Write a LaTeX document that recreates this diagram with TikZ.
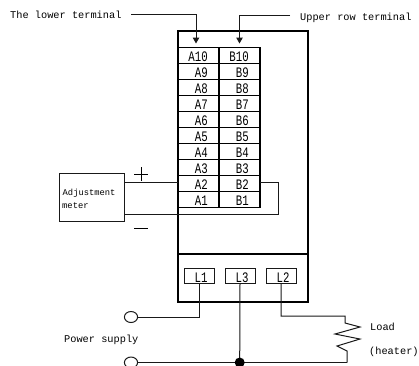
\documentclass[tikz,border=0pt]{standalone}
\usepackage{fontspec}
\setmainfont{Liberation Mono}
\newfontfamily\cellfont[FakeStretch=0.74]{Liberation Mono}
\usetikzlibrary{arrows.meta}
\tikzset{
  heavy/.style={draw=black,line width=1.8pt},
  wire/.style={draw=black!90,line width=1pt},
  pointer/.style={wire,-{Triangle[length=6pt,width=6.5pt]}},
  cellbox/.style={heavy,rectangle,minimum width=41pt,minimum height=16pt,inner sep=0pt,outer sep=0pt},
  celltext/.style={font=\cellfont\fontsize{14.5}{15}\selectfont,inner sep=0pt,anchor=base east},
  termbox/.style={draw=black!90,line width=1pt,rectangle,minimum width=30pt,minimum height=15pt,inner sep=0pt,outer sep=0pt},
  lbl/.style={font=\fontsize{10.3}{12}\selectfont,inner sep=0pt,anchor=base west},
  small/.style={font=\fontsize{8.8}{10}\selectfont,inner sep=0pt,anchor=base west},
  ring/.style={draw=black!90,line width=1pt,fill=white,circle,inner sep=0pt,minimum size=11pt,xscale=1.2},
}
\begin{document}
\begin{tikzpicture}[x=1pt,y=-1pt]
\clip (0,0) rectangle (419,365);
\fill[white] (0,0) rectangle (419,365);
% outer case
\node[heavy,rectangle,minimum width=130pt,minimum height=271pt,inner sep=0pt,outer sep=0pt] (case) at (243,166.5) {};
\draw[heavy] (178,254) -- (308,254);
% terminal table
\foreach \r/\yy in {10/55.5,9/71.5,8/87.5,7/103.5,6/119.5,5/135.5,4/151.5,3/167.5,2/183.5,1/199.5}{
  \node[cellbox] (A\r) at (198.5,\yy) {};
  \node[cellbox] (B\r) at (239.5,\yy) {};
  \node[celltext] at ([xshift=-11pt,yshift=1.7pt]A\r.south east) {A\r};
  \node[celltext] at ([xshift=-11pt,yshift=1.7pt]B\r.south east) {B\r};
}
% labels
\node[lbl] (lowerlabel) at (10,18) {The lower terminal};
\node[lbl] (upperlabel) at (300,20) {Upper row terminal};
\coordinate (lowerstart) at (131,14.5);
\coordinate (upperstart) at (290,15);
\coordinate (lowertip) at (196,43.5);
\coordinate (uppertip) at (239.5,43.5);
\draw[pointer] (lowerstart) -| (lowertip);
\draw[pointer] (upperstart) -| (uppertip);
% meter
\node[draw=black!90,line width=1pt,rectangle,minimum width=65pt,minimum height=48pt,inner sep=0pt,outer sep=0pt] (meter) at (91.5,197) {};
\node[small] at (62.5,195) {Adjustment};
\node[small] at (62,208) {meter};
\coordinate (mplus) at (124,182);
\coordinate (mminus) at (124,214);
\coordinate (a2in) at (178,182);
\coordinate (b2out) at (260,182);
\coordinate (bend) at (278,214);
\draw[wire] (mplus) -- (a2in);
\draw[wire] (mminus) -- (bend) |- (b2out);
\draw[line width=1pt] (134,174) -- (148,174) (141,167) -- (141,181);
\draw[line width=1pt] (134,228) -- (148,228);
% power terminals
\foreach \n/\xx in {1/199,3/240,2/281}{
  \node[termbox] (L\n) at (\xx,275.5) {};
  \node[celltext,anchor=base] at ([xshift=2pt,yshift=1pt]L\n.south) {L\n};
}
\node[ring] (top) at (131,317) {};
\node[ring] (bot) at (131,362.5) {};
\coordinate (jn) at (239.7,362.5);
\coordinate (loadend) at (347,362.5);
\draw[wire] (L1.south) |- (top.east);
\draw[wire] (bot.east) -- (loadend);
\draw[wire] (L3.south) -- (jn);
\fill (jn) circle (5pt);
\coordinate (loadtop) at (345,316);
\draw[wire] (L2.south) |- (loadtop) -- (345,323) -- (360,327) -- (335,334) -- (360,339) -- (337,346) -- (347,351) -- (loadend);
\node[lbl] at (64,342.5) {Power supply};
\node[lbl] at (370,330) {Load};
\node[lbl] at (369,354) {(heater)};
\end{tikzpicture}
\end{document}
